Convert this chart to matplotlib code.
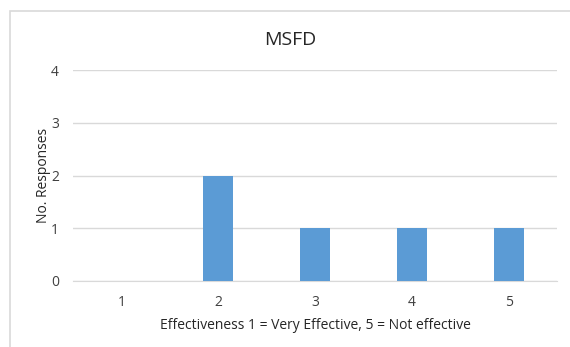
import matplotlib.pyplot as plt
from matplotlib.patches import Rectangle

categories = ['1', '2', '3', '4', '5']
responses = [0, 2, 1, 1, 1]
y_ticks = [0, 1, 2, 3, 4]

plt.rcParams['font.family'] = ['Open Sans', 'DejaVu Sans']

fig = plt.figure(figsize=(5.7, 3.47), dpi=100)

# chart frame (only left/top edges show in the crop)
fig.patches.append(Rectangle((10 / 570, -0.1), 1.2, 1 - 11 / 347 + 0.1,
                             transform=fig.transFigure, fill=False,
                             edgecolor='#d9d9d9', linewidth=1.2))

ax = fig.add_axes([73 / 570, 66 / 347, 484 / 570, 211 / 347])
x = list(range(1, len(categories) + 1))
ax.bar(x, responses, width=0.31, color='#5b9bd5', zorder=3)

ax.set_xlim(0.5, 5.5)
ax.set_ylim(0, 4)
ax.set_xticks(x)
ax.set_xticklabels(categories)
ax.set_yticks(y_ticks)
ax.grid(axis='y', color='#d9d9d9', linewidth=1, zorder=0)
for s in ['top', 'right', 'left']:
    ax.spines[s].set_visible(False)
ax.spines['bottom'].set_color('#d9d9d9')
ax.tick_params(length=0, colors='#404040', labelsize=10, pad=10)
ax.tick_params(axis='y', pad=10)

fig.text(290 / 570, 1 - 40 / 347, 'MSFD', fontsize=14, color='#262626',
         ha='center', va='center')
ax.set_ylabel('No. Responses', fontsize=10, color='#262626', labelpad=0)
ax.set_xlabel('Effectiveness 1 = Very Effective, 5 = Not effective',
              fontsize=10, color='#262626', labelpad=6)

fig.savefig('out.png', dpi=100)
